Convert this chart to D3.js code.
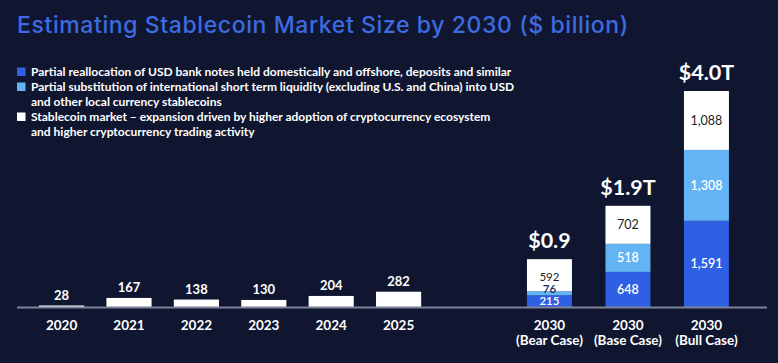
<!DOCTYPE html>
<html>
<head>
<meta charset="utf-8">
<script src="https://cdn.jsdelivr.net/npm/d3@7"></script>
<style>
  html, body { margin: 0; padding: 0; background: #111630; }
  svg { display: block; font-family: "Lato", "Noto Sans", sans-serif; }
</style>
</head>
<body>
<div id="chart"></div>
<script>
// data
var years = ["2020", "2021", "2022", "2023", "2024", "2025"];
var histValues = [28, 167, 138, 130, 204, 282];

var cases = ["Bear Case", "Base Case", "Bull Case"];
var bankNotes = [215, 648, 1591];
var intlLiquidity = [76, 518, 1308];
var cryptoExpansion = [592, 702, 1088];
var totalLabels = ["$0.9", "$1.9T", "$4.0T"];

var legendLabels = [
  ["Partial reallocation of USD bank notes held domestically and offshore, deposits and similar"],
  ["Partial substitution of international short term liquidity (excluding U.S. and China) into USD", "and other local currency stablecoins"],
  ["Stablecoin market \u2013 expansion driven by higher adoption of cryptocurrency ecosystem", "and higher cryptocurrency trading activity"]
];

var colors = ["#2f5fe3", "#63b3f5", "#ffffff"];

var svgWidth = 778;
var svgHeight = 363;
var baseY = 307;

var svg = d3.select("#chart")
            .append("svg")
            .attr("width", svgWidth)
            .attr("height", svgHeight);

svg.append("rect")
   .attr("width", svgWidth)
   .attr("height", svgHeight)
   .attr("fill", "#111630");

// title
svg.append("text")
   .attr("x", 17)
   .attr("y", 33)
   .attr("fill", "#3d6be0")
   .style("font-family", "Inter, sans-serif")
   .style("font-size", "23px")
   .style("font-weight", 500)
   .style("letter-spacing", "0.6px")
   .text("Estimating Stablecoin Market Size by 2030 ($ billion)");

// legend
var legendY = [76, 91, 121];
legendLabels.forEach(function(lines, i) {
  svg.append("rect")
     .attr("x", 17)
     .attr("y", legendY[i] - 8.5)
     .attr("width", 8.5)
     .attr("height", 8.5)
     .attr("fill", colors[i]);
  lines.forEach(function(line, j) {
    svg.append("text")
       .attr("x", 31)
       .attr("y", legendY[i] + j * 15)
       .attr("fill", "#ffffff")
       .style("font-size", "12px")
       .style("font-weight", 700)
       .text(line);
  });
});

// scales
var yScale = d3.scaleLinear()
               .domain([0, 4000])
               .range([baseY, baseY - 216.7]);

var xHist = d3.scaleBand()
              .domain(years)
              .range([27.9, 432.3])
              .paddingInner(0.33)
              .paddingOuter(0.165);

var xCase = d3.scaleBand()
              .domain(cases)
              .range([510.2, 745.7])
              .paddingInner(0.427)
              .paddingOuter(0.2135);

// historical bars
var histData = years.map(function(y, i) { return {year: y, value: histValues[i]}; });

svg.selectAll(".hist")
   .data(histData)
   .enter()
   .append("rect")
   .attr("class", "hist")
   .attr("x", d => xHist(d.year))
   .attr("y", d => yScale(d.value))
   .attr("width", xHist.bandwidth())
   .attr("height", d => baseY - yScale(d.value))
   .attr("fill", "#ffffff");

svg.selectAll(".histlabel")
   .data(histData)
   .enter()
   .append("text")
   .attr("class", "histlabel")
   .attr("x", d => xHist(d.year) + xHist.bandwidth() / 2)
   .attr("y", d => yScale(d.value) - 5.5)
   .attr("text-anchor", "middle")
   .attr("fill", "#ffffff")
   .style("font-size", "13px")
   .style("font-weight", 700)
   .text(d => d.value);

// 2030 stacked bars
var caseData = cases.map(function(c, i) {
  return {case: c, bank: bankNotes[i], intl: intlLiquidity[i], crypto: cryptoExpansion[i]};
});
var keys = ["bank", "intl", "crypto"];
var stacked = d3.stack().keys(keys)(caseData);

var layers = svg.selectAll(".layer")
   .data(stacked)
   .enter()
   .append("g")
   .attr("class", "layer")
   .attr("fill", (d, i) => colors[i]);

layers.selectAll("rect")
   .data(d => d)
   .enter()
   .append("rect")
   .attr("x", d => xCase(d.data.case))
   .attr("y", d => yScale(d[1]))
   .attr("width", xCase.bandwidth())
   .attr("height", d => yScale(d[0]) - yScale(d[1]));

// bear case bar is too short for three labels, so they are packed tighter
var segColors = ["#ffffff", "#ffffff", "#222222"];
stacked.forEach(function(layer, i) {
  svg.selectAll(".seg" + i)
     .data(layer)
     .enter()
     .append("text")
     .attr("class", "seg" + i)
     .attr("x", d => xCase(d.data.case) + xCase.bandwidth() / 2)
     .attr("y", function(d) {
       if (d.data.case === "Bear Case") return [305, 293, 281][i];
       return (yScale(d[0]) + yScale(d[1])) / 2 + 4.5;
     })
     .attr("text-anchor", "middle")
     .attr("fill", (d) => (d[1] - d[0] < 100) ? "#1a2a5a" : segColors[i])
     .style("font-size", d => d.data.case === "Bear Case" ? "11.5px" : "12.5px")
     .style("font-weight", i === 2 ? 400 : 600)
     .text(d => d3.format(",")(d[1] - d[0]));
});

svg.selectAll(".total")
   .data(caseData)
   .enter()
   .append("text")
   .attr("class", "total")
   .attr("x", d => xCase(d.case) + xCase.bandwidth() / 2)
   .attr("y", d => yScale(d.bank + d.intl + d.crypto) - 11)
   .attr("text-anchor", "middle")
   .attr("fill", "#ffffff")
   .style("font-size", "21.5px")
   .style("font-weight", 700)
   .text((d, i) => totalLabels[i]);

// baseline
svg.append("line")
   .attr("x1", 17)
   .attr("x2", 767)
   .attr("y1", baseY + 0.5)
   .attr("y2", baseY + 0.5)
   .attr("stroke", "#7d8299")
   .attr("stroke-width", 2);

// x labels
svg.selectAll(".year")
   .data(years)
   .enter()
   .append("text")
   .attr("class", "year")
   .attr("x", d => xHist(d) + xHist.bandwidth() / 2)
   .attr("y", 330)
   .attr("text-anchor", "middle")
   .attr("fill", "#ffffff")
   .style("font-size", "13.5px")
   .style("font-weight", 700)
   .text(d => d);

var caseLabels = svg.selectAll(".caselabel")
   .data(cases)
   .enter()
   .append("text")
   .attr("class", "caselabel")
   .attr("text-anchor", "middle")
   .attr("fill", "#ffffff")
   .style("font-size", "13.5px")
   .style("font-weight", 700);

caseLabels.append("tspan")
   .attr("x", d => xCase(d) + xCase.bandwidth() / 2)
   .attr("y", 330)
   .text("2030");
caseLabels.append("tspan")
   .attr("x", d => xCase(d) + xCase.bandwidth() / 2)
   .attr("y", 345)
   .text(d => "(" + d + ")");
</script>
</body>
</html>
